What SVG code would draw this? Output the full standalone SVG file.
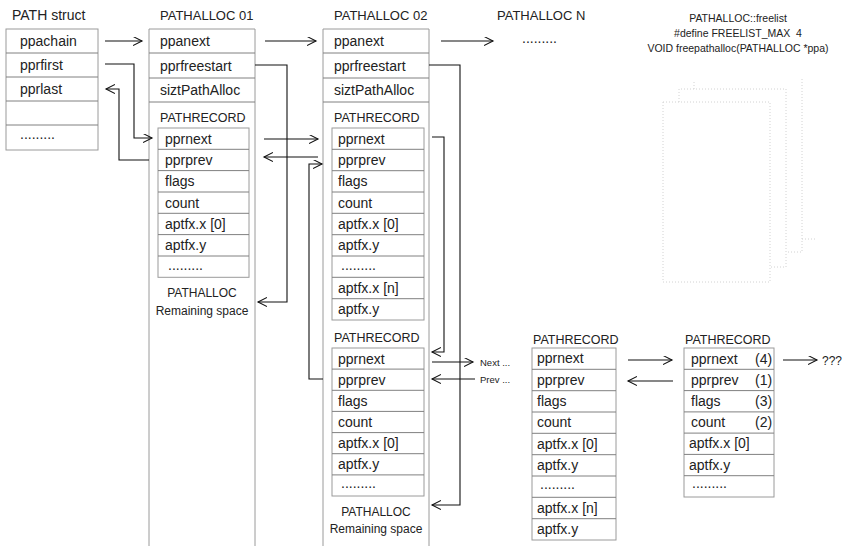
<svg xmlns="http://www.w3.org/2000/svg" width="858" height="546" viewBox="0 0 858 546">
  <style>
    .t { font-family: "Liberation Sans", Arial, sans-serif; font-size: 14px; fill: #222; }
    .h { font-size: 13px; }
    .r { font-size: 12.5px; }
    .s { font-size: 12px; }
    .xs { font-size: 9.5px; }
    .m { font-size: 10.5px; }
    .box { fill: none; stroke: #9a9a9a; stroke-width: 1; }
    .dv { fill: none; stroke: #808080; stroke-width: 1; }
    .c { fill: none; stroke: #111; stroke-width: 1.1; marker-end: url(#arr); }
    .faint { fill: none; stroke: #d2d2d2; stroke-width: 1; stroke-dasharray: 1 2; }
  </style>
  <defs>
    <marker id="arr" markerUnits="userSpaceOnUse" markerWidth="12" markerHeight="12" refX="9" refY="4.5" orient="auto">
      <path d="M0,0 L9,4.5 L0,9" fill="none" stroke="#111" stroke-width="1.1"/>
    </marker>
  </defs>
  <rect width="858" height="546" fill="#fff"/>

  <!-- PATH struct -->
  <g id="path-struct">
    <text class="t" x="12" y="20">PATH struct</text>
    <rect class="box" x="6" y="29" width="92" height="121"/>
    <path class="dv" d="M6,53 H98 M6,77 H98 M6,101 H98 M6,125 H98"/>
    <text class="t" x="20" y="46">ppachain</text>
    <text class="t" x="20" y="70">pprfirst</text>
    <text class="t" x="20" y="94">pprlast</text>
    <text class="t" x="20" y="139">.........</text>
  </g>

  <!-- PATHALLOC 01 -->
  <g id="pathalloc-01">
    <text class="t h" x="160" y="20">PATHALLOC 01</text>
    <path class="box" d="M149,546 V29 H255 V546"/>
    <path class="dv" d="M149,53 H255 M149,78 H255 M149,102 H255"/>
    <text class="t" x="160" y="46">ppanext</text>
    <text class="t" x="160" y="70.5">pprfreestart</text>
    <text class="t" x="160" y="95">siztPathAlloc</text>
    <text class="t r" x="160" y="122">PATHRECORD</text>
    <rect class="box" x="158" y="128" width="91" height="149.3"/>
    <path class="dv" d="M158,149.3 H249 M158,170.6 H249 M158,192 H249 M158,213.3 H249 M158,234.6 H249 M158,256 H249"/>
    <text class="t" x="165" y="143.7">pprnext</text>
    <text class="t" x="165" y="165">pprprev</text>
    <text class="t" x="165" y="186.3">flags</text>
    <text class="t" x="165" y="207.6">count</text>
    <text class="t" x="165" y="229">aptfx.x [0]</text>
    <text class="t" x="165" y="250.3">aptfx.y</text>
    <text class="t" x="168" y="270">.........</text>
    <text class="t s" x="202" y="297" text-anchor="middle">PATHALLOC</text>
    <text class="t s" x="202" y="315" text-anchor="middle">Remaining space</text>
  </g>

  <!-- PATHALLOC 02 -->
  <g id="pathalloc-02">
    <text class="t h" x="334" y="20">PATHALLOC 02</text>
    <path class="box" d="M323,546 V29 H429 V546"/>
    <path class="dv" d="M323,53 H429 M323,78 H429 M323,102 H429"/>
    <text class="t" x="334" y="46">ppanext</text>
    <text class="t" x="334" y="70.5">pprfreestart</text>
    <text class="t" x="334" y="95">siztPathAlloc</text>
    <text class="t r" x="334" y="122">PATHRECORD</text>
    <rect class="box" x="332" y="128" width="92" height="192"/>
    <path class="dv" d="M332,149.3 H424 M332,170.7 H424 M332,192 H424 M332,213.3 H424 M332,234.7 H424 M332,256 H424 M332,277.3 H424 M332,298.7 H424"/>
    <text class="t" x="338" y="143.7">pprnext</text>
    <text class="t" x="338" y="165">pprprev</text>
    <text class="t" x="338" y="186.3">flags</text>
    <text class="t" x="338" y="207.7">count</text>
    <text class="t" x="338" y="229">aptfx.x [0]</text>
    <text class="t" x="338" y="250.3">aptfx.y</text>
    <text class="t" x="341" y="270">.........</text>
    <text class="t" x="338" y="293">aptfx.x [n]</text>
    <text class="t" x="338" y="314.3">aptfx.y</text>
    <text class="t r" x="334" y="342">PATHRECORD</text>
    <rect class="box" x="332" y="348" width="92" height="148"/>
    <path class="dv" d="M332,369.1 H424 M332,390.3 H424 M332,411.4 H424 M332,432.6 H424 M332,453.7 H424 M332,474.9 H424"/>
    <text class="t" x="338" y="363.6">pprnext</text>
    <text class="t" x="338" y="384.7">pprprev</text>
    <text class="t" x="338" y="405.9">flags</text>
    <text class="t" x="338" y="427">count</text>
    <text class="t" x="338" y="448.1">aptfx.x [0]</text>
    <text class="t" x="338" y="469.3">aptfx.y</text>
    <text class="t" x="341" y="488">.........</text>
    <text class="t s" x="376" y="516" text-anchor="middle">PATHALLOC</text>
    <text class="t s" x="376" y="533" text-anchor="middle">Remaining space</text>
  </g>

  <!-- PATHALLOC N -->
  <g id="pathalloc-n">
    <text class="t h" x="497" y="20">PATHALLOC N</text>
    <text class="t" x="522" y="43">.........</text>
  </g>

  <!-- freelist notes and stacked free blocks -->
  <g id="freelist">
    <text class="t m" x="738" y="22" text-anchor="middle">PATHALLOC::freelist</text>
    <text class="t m" x="738" y="37" text-anchor="middle" xml:space="preserve">#define FREELIST_MAX  4</text>
    <text class="t m" x="738" y="52" text-anchor="middle">VOID freepathalloc(PATHALLOC *ppa)</text>
    <rect class="faint" x="663" y="102" width="107" height="180"/>
    <path class="faint" d="M679,102 V89 H786 V267 H770"/>
    <path class="faint" d="M694,89 V80 M802,79 V252 H786"/>
    <path class="faint" d="M802,239 H815"/>
  </g>

  <!-- PATHRECORD (detached, left) -->
  <g id="pathrecord-a">
    <text class="t r" x="533" y="344">PATHRECORD</text>
    <rect class="box" x="532" y="348" width="84" height="192"/>
    <path class="dv" d="M532,369.3 H616 M532,390.7 H616 M532,412 H616 M532,433.3 H616 M532,454.7 H616 M532,476 H616 M532,497.3 H616 M532,518.7 H616"/>
    <text class="t" x="537" y="362.5">pprnext</text>
    <text class="t" x="537" y="384.5">pprprev</text>
    <text class="t" x="537" y="405.8">flags</text>
    <text class="t" x="537" y="427.2">count</text>
    <text class="t" x="537" y="448.5">aptfx.x [0]</text>
    <text class="t" x="537" y="469.8">aptfx.y</text>
    <text class="t" x="540" y="489">.........</text>
    <text class="t" x="537" y="512.5">aptfx.x [n]</text>
    <text class="t" x="537" y="533.8">aptfx.y</text>
  </g>

  <!-- PATHRECORD (detached, right) -->
  <g id="pathrecord-b">
    <text class="t r" x="685" y="344">PATHRECORD</text>
    <rect class="box" x="684" y="348" width="90" height="149"/>
    <path class="dv" d="M684,369.3 H774 M684,390.6 H774 M684,411.9 H774 M684,433.1 H774 M684,454.4 H774 M684,475.7 H774"/>
    <text class="t" x="691" y="363.5">pprnext</text>
    <text class="t" x="755" y="363.5">(4)</text>
    <text class="t" x="691" y="384.5">pprprev</text>
    <text class="t" x="755" y="384.5">(1)</text>
    <text class="t" x="691" y="405.8">flags</text>
    <text class="t" x="755" y="405.8">(3)</text>
    <text class="t" x="691" y="427">count</text>
    <text class="t" x="755" y="427">(2)</text>
    <text class="t" x="689" y="448.3">aptfx.x [0]</text>
    <text class="t" x="689" y="469.6">aptfx.y</text>
    <text class="t" x="692" y="488">.........</text>
  </g>

  <!-- pointers between structures -->
  <g id="connectors">
    <path class="c" d="M105,41 H142"/>
    <path class="c" d="M265,41 H316"/>
    <path class="c" d="M441,41 H493"/>
    <path class="c" d="M105,64 H134 V138 H152"/>
    <path class="c" d="M149,160 H119 V89 H106"/>
    <path class="c" d="M255,65 H287 V302 H258"/>
    <path class="c" d="M264,139 H318"/>
    <path class="c" d="M318,157 H264"/>
    <path class="c" d="M323,379 H309 V164 H322"/>
    <path class="c" d="M432,137 H444 V352 H432"/>
    <path class="c" d="M429,65 H460 V505 H432"/>
    <path class="c" d="M432,362 H473"/>
    <path class="c" d="M475,379 H432"/>
    <path class="c" d="M628,360 H672"/>
    <path class="c" d="M673,381 H628"/>
    <path class="c" d="M783,360 H817"/>
    <text class="t xs" x="480" y="366">Next ...</text>
    <text class="t xs" x="480" y="383">Prev ...</text>
    <text class="t s" x="822" y="365">???</text>
  </g>
</svg>
